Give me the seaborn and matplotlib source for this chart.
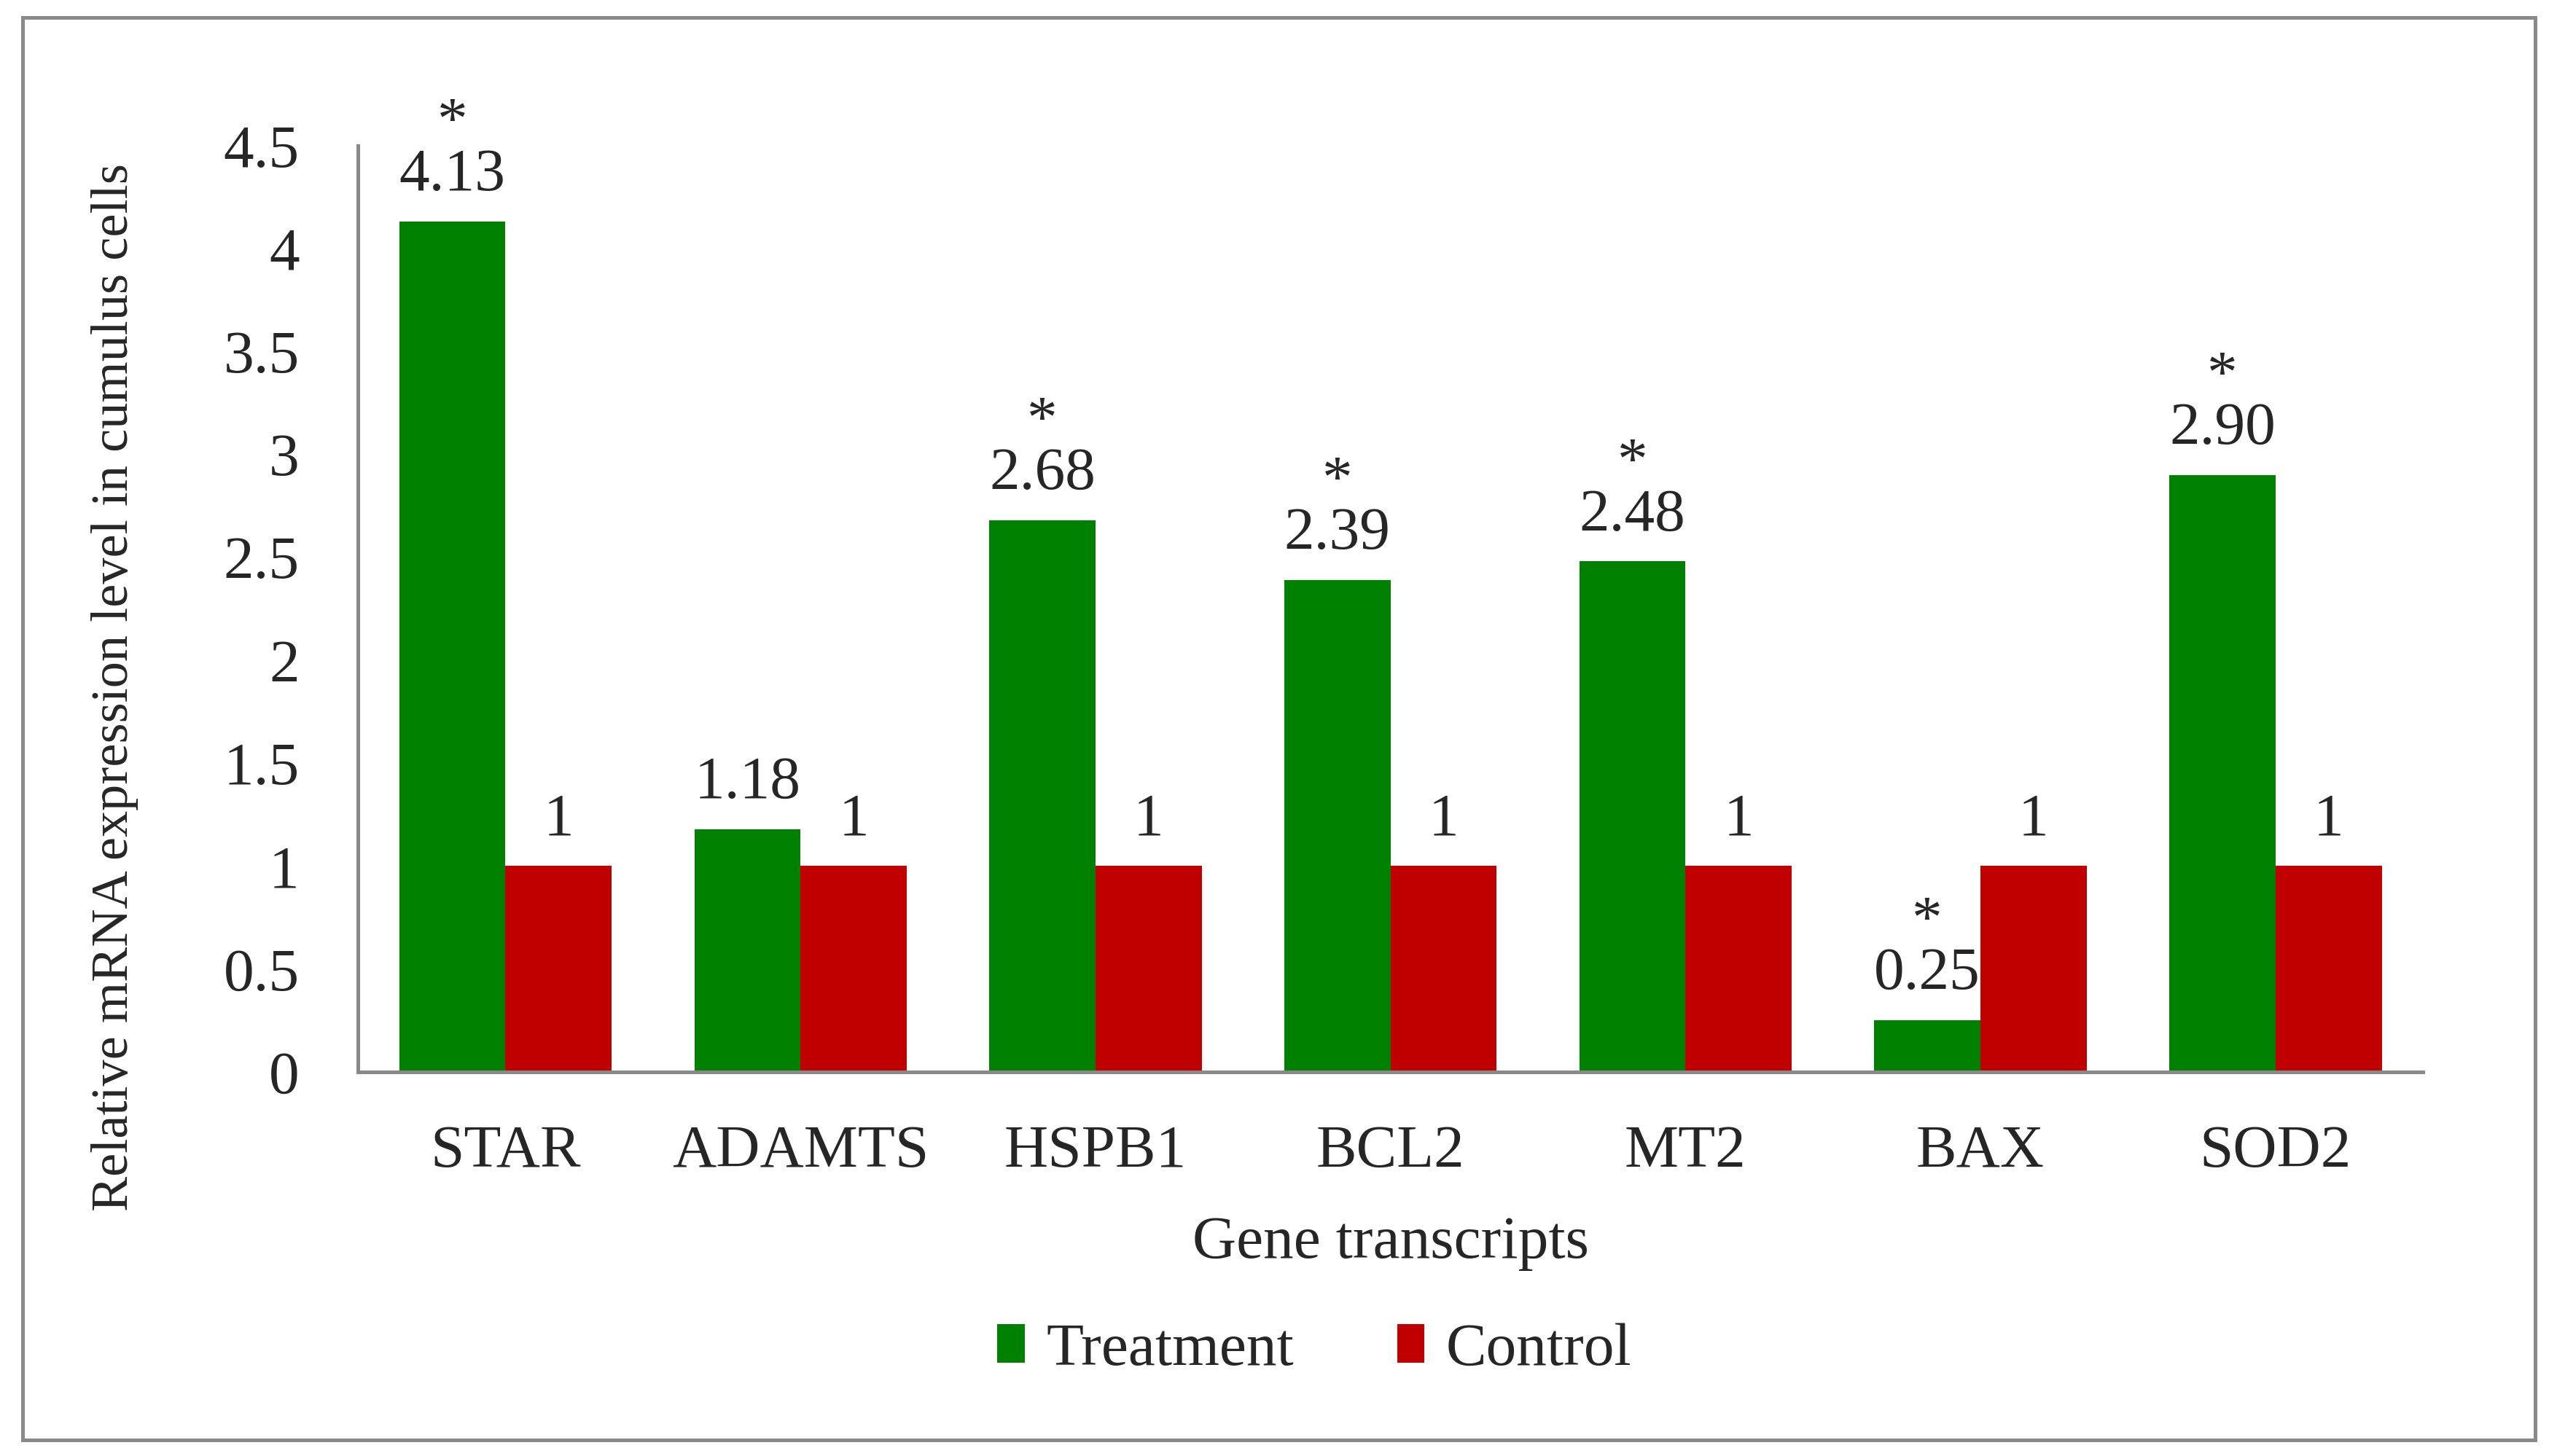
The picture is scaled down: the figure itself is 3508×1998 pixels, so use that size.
import matplotlib
matplotlib.use("Agg")
import pandas as pd
import matplotlib.pyplot as plt
import seaborn as sns
from matplotlib.patches import Rectangle

# data
genes = ["STAR", "ADAMTS", "HSPB1", "BCL2", "MT2", "BAX", "SOD2"]
treatment = [4.13, 1.18, 2.68, 2.39, 2.48, 0.25, 2.90]
control = [1, 1, 1, 1, 1, 1, 1]
treatment_labels = ["4.13", "1.18", "2.68", "2.39", "2.48", "0.25", "2.90"]
control_labels = ["1", "1", "1", "1", "1", "1", "1"]
significant = [True, False, True, True, True, True, True]
groups = ["Treatment", "Control"]
yticks = [0, 0.5, 1, 1.5, 2, 2.5, 3, 3.5, 4, 4.5]
ytick_labels = ["0", "0.5", "1", "1.5", "2", "2.5", "3", "3.5", "4", "4.5"]

df = pd.DataFrame({"gene": genes, "Treatment": treatment, "Control": control})
df = df.melt(id_vars="gene", value_vars=groups, var_name="group", value_name="value")

sns.set_style("white")
plt.rcParams["font.family"] = ["Liberation Serif", "DejaVu Serif"]
fs = 30

grey = "#898989"
fig = plt.figure(figsize=(17.54, 9.99), dpi=200)
ax = fig.add_axes([0.140, 0.2638, 0.8076, 0.6362])

sns.barplot(data=df, x="gene", y="value", hue="group", hue_order=groups,
            palette=["#008000", "#C00000"], saturation=1, width=0.72,
            linewidth=0, edgecolor="none", ax=ax)

ax.set_ylim(0, 4.5)
ax.set_yticks(yticks)
ax.set_yticklabels(ytick_labels)
ax.tick_params(axis="x", length=0, pad=26, labelsize=fs)
ax.tick_params(axis="y", length=0, pad=29, labelsize=fs)
ax.set_xlabel("Gene transcripts", fontsize=fs, labelpad=18)
ax.set_ylabel("")

for s in ["top", "right"]:
    ax.spines[s].set_visible(False)
for s in ["left", "bottom"]:
    ax.spines[s].set_color(grey)
    ax.spines[s].set_linewidth(1.8)

# value labels
ax.bar_label(ax.containers[0], labels=treatment_labels, padding=9, fontsize=fs)
ax.bar_label(ax.containers[1], labels=control_labels, padding=9, fontsize=fs)

# significance stars
for bar, v, sig in zip(ax.containers[0], treatment, significant):
    if sig:
        ax.annotate("*", xy=(bar.get_x() + bar.get_width() / 2, v),
                    xytext=(0, 41), textcoords="offset points",
                    ha="center", va="baseline", fontsize=fs)

fig.text(158 / 3508, 1 - 943 / 1998, "Relative mRNA expression level in cumulus cells",
         rotation=90, ha="center", va="center", fontsize=26)

sns.move_legend(ax, loc="center", bbox_to_anchor=(0.514, 0.0726),
                bbox_transform=fig.transFigure, ncol=2, frameon=False, title=None,
                fontsize=fs, handlelength=0.45, handleheight=0.6,
                handletextpad=0.35, columnspacing=1.7)

# grey frame round the whole figure
fig.patches.append(Rectangle((0.0088, 0.011), 0.9826, 0.977, transform=fig.transFigure,
                             fill=False, edgecolor=grey, linewidth=1.8))

fig.savefig("out.png", dpi=200, facecolor="white")
